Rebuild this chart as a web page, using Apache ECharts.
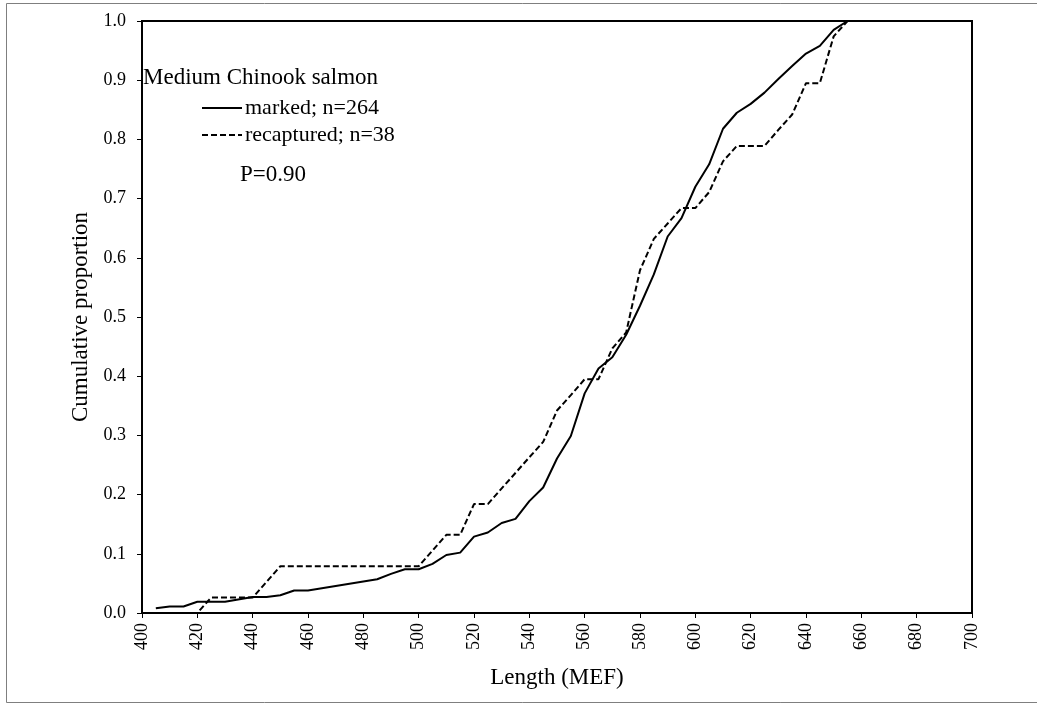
<!DOCTYPE html>
<html>
<head>
<meta charset="utf-8">
<script src="https://cdn.jsdelivr.net/npm/echarts@6/dist/echarts.min.js"></script>
<style>
html,body{margin:0;padding:0;background:#fff;}
#chart{width:1037px;height:704px;}
</style>
</head>
<body>
<div id="chart"></div>
<script>
const markedLength = [405,410,415,420,430,440,445,450,455,460,485,490,495,500,505,510,515,520,525,530,535,540,545,550,555,560,565,570,575,580,585,590,595,600,605,610,615,620,625,630,635,640,645,650,655,700];
const markedProp = [0.008,0.011,0.011,0.019,0.019,0.027,0.027,0.030,0.038,0.038,0.057,0.066,0.074,0.074,0.083,0.098,0.102,0.129,0.136,0.152,0.159,0.189,0.212,0.261,0.299,0.371,0.413,0.432,0.470,0.519,0.572,0.636,0.667,0.720,0.758,0.818,0.845,0.860,0.879,0.902,0.924,0.945,0.958,0.985,1.0,1.0];
const recapLength = [405,420,425,440,450,500,510,515,520,525,540,545,550,555,560,565,570,575,580,585,590,595,600,605,610,615,625,630,635,640,645,650,655,700];
const recapProp = [0,0,0.026,0.026,0.079,0.079,0.132,0.132,0.184,0.184,0.263,0.289,0.342,0.368,0.395,0.395,0.447,0.474,0.579,0.632,0.658,0.684,0.684,0.711,0.763,0.789,0.789,0.816,0.842,0.895,0.895,0.974,1.0,1.0];
const seriesNames = ['marked; n=264','recaptured; n=38'];
const chartTitle = 'Medium Chinook salmon';
const pText = 'P=0.90';
const xName = 'Length (MEF)';
const yName = 'Cumulative proportion';

const zip = (a,b) => a.map((v,i)=>[v,b[i]]);
const font = 'Liberation Serif';

const chart = echarts.init(document.getElementById('chart'), null, {renderer:'canvas'});
chart.setOption({
  animation:false,
  backgroundColor:'#fff',
  legend:{
    orient:'vertical',
    left: 201, top: 97,
    padding: 0,
    itemWidth: 40, itemHeight: 14,
    itemGap: 5,
    itemStyle:{opacity:0},
    textStyle:{fontFamily:font, fontSize:22, lineHeight:22, color:'#000', padding:[0,0,0,-2]},
    data: seriesNames
  },
  graphic:[
    {type:'rect', shape:{x:6.5, y:3.5, width:1040, height:699}, style:{fill:'none', stroke:'#7f7f7f', lineWidth:1}, silent:true},
    {type:'text', left: 143, top: 66, style:{text:chartTitle, fontFamily:font, fontSize:23, fill:'#000'}},
    {type:'text', left: 240, top: 163, style:{text:pText, fontFamily:font, fontSize:23, fill:'#000'}}
  ],
  grid:{left:142, right:65, top:21, bottom:91, show:true, borderColor:'#000', borderWidth:2, backgroundColor:'transparent'},
  xAxis:{
    type:'value', min:400, max:700, interval:20,
    name: xName, nameLocation:'middle', nameGap:53,
    nameTextStyle:{fontFamily:font, fontSize:23, color:'#000'},
    axisLine:{show:true, lineStyle:{color:'#000', width:2}},
    axisTick:{show:true, inside:false, length:5, lineStyle:{color:'#000', width:1}},
    axisLabel:{rotate:90, fontFamily:font, fontSize:18, color:'#000', margin:10},
    splitLine:{show:false}
  },
  yAxis:{
    type:'value', min:0, max:1, interval:0.1,
    name: yName, nameLocation:'middle', nameGap:48,
    nameTextStyle:{fontFamily:font, fontSize:23, color:'#000'},
    axisLine:{show:true, lineStyle:{color:'#000', width:2}},
    axisTick:{show:true, inside:false, length:5, lineStyle:{color:'#000', width:1}},
    axisLabel:{fontFamily:font, fontSize:18, color:'#000', margin:16, formatter:v=>v.toFixed(1)},
    splitLine:{show:false}
  },
  series:[
    {name:seriesNames[0], type:'line', data:zip(markedLength, markedProp), symbol:'none', showSymbol:false,
     lineStyle:{color:'#000', width:2, type:'solid'}, itemStyle:{color:'#000'}, z:3},
    {name:seriesNames[1], type:'line', data:zip(recapLength, recapProp), symbol:'none', showSymbol:false,
     lineStyle:{color:'#000', width:2, type:[6,3]}, itemStyle:{color:'#000'}, z:2}
  ]
});
</script>
</body>
</html>
